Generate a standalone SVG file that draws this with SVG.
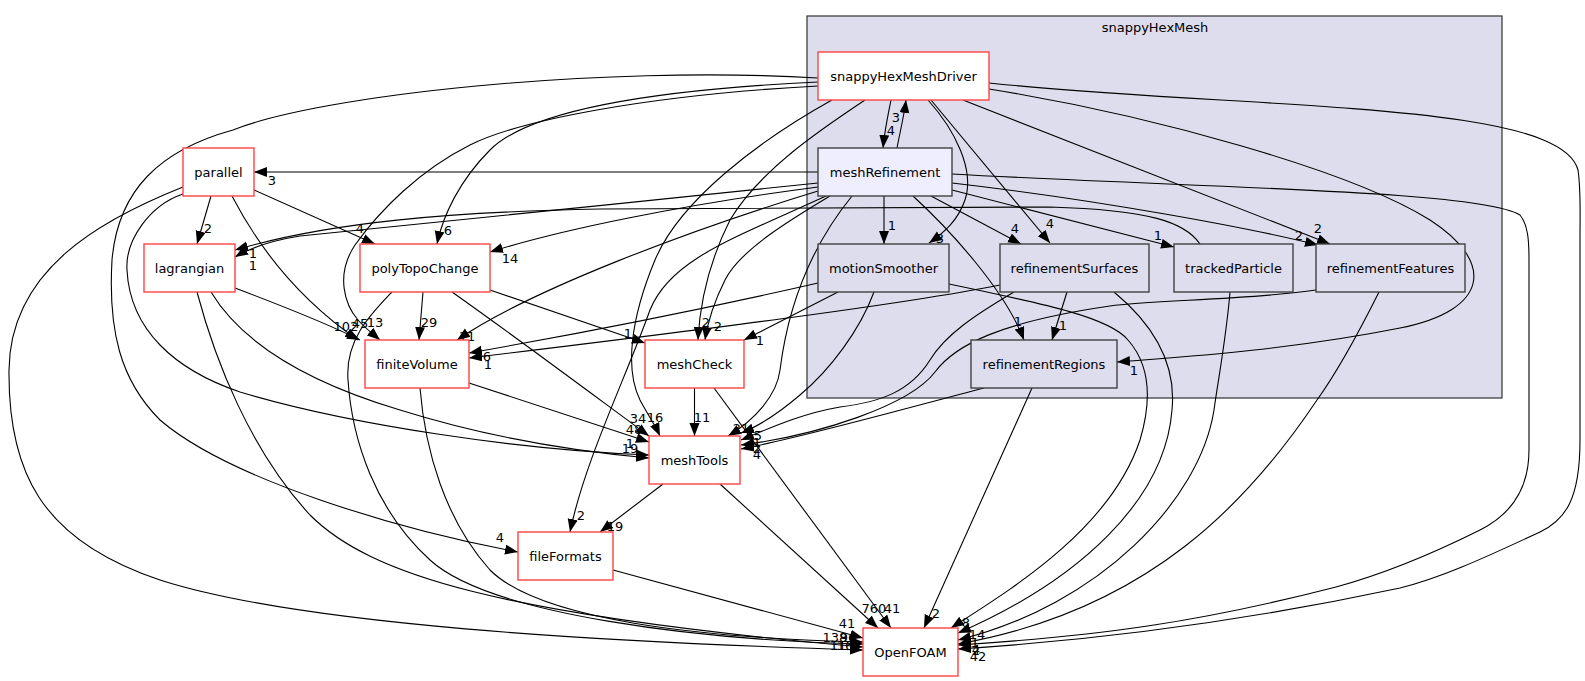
<svg xmlns="http://www.w3.org/2000/svg" width="1585" height="681" viewBox="0 0 1585 681">
<style>
.bg{fill:#ffffff}
.cl{fill:#ddddee;stroke:#404040;stroke-width:1.3}
.r{fill:#ffffff;stroke:#ff4444;stroke-width:1.4}
.g{fill:#ddddee;stroke:#404040;stroke-width:1.4}
.h{fill:#eeeeff;stroke:#404040;stroke-width:1.4}
text{font-family:"DejaVu Sans","Liberation Sans",sans-serif;font-size:13px;fill:#000}
.t{text-anchor:middle}
.l{text-anchor:middle;font-size:13px}
.e{fill:none;stroke:#000;stroke-width:1.1;marker-end:url(#a)}
</style>
<defs>
<marker id="a" markerUnits="userSpaceOnUse" markerWidth="14" markerHeight="11" refX="13" refY="5" orient="auto">
<path d="M0,0 L13,5 L0,10 z" fill="#000"/>
</marker>
</defs>
<rect class="bg" x="0" y="0" width="1585" height="681"/>
<g id="cluster_snappyHexMesh">
<rect class="cl" x="807" y="16" width="695" height="382"/>
<text class="t" x="1155" y="32">snappyHexMesh</text>
</g>
<g id="edges">
<path class="e" d="M891,100 C888,115 885,128 883,148"/>
<path class="e" d="M897,148 C900,132 904,116 906,100"/>
<path class="e" d="M928,100 C955,130 975,170 965,200 C958,220 945,232 929,243"/>
<path class="e" d="M931,100 L1050,243"/>
<path class="e" d="M963,100 L1330,244"/>
<path class="e" d="M989,89 C1150,115 1350,170 1430,220 C1495,262 1490,310 1400,328 C1300,348 1200,356 1117,362"/>
<path class="e" d="M989,83 C1250,110 1560,100 1578,170 C1581,190 1580,210 1580,240 L1580,440 C1580,500 1565,520 1540,532 C1480,560 1440,578 1400,588 C1250,620 1100,640 958,649"/>
<path class="e" d="M865,100 C820,130 760,170 730,220 C710,260 700,300 698,340"/>
<path class="e" d="M832,100 C760,140 680,200 655,260 C630,320 625,370 640,400 C648,415 655,425 660,436"/>
<path class="e" d="M818,78 C600,65 320,95 233,130 C160,150 118,190 112,260 C108,330 120,380 160,420 C230,480 400,530 518,552"/>
<path class="e" d="M818,82 C650,90 530,110 490,150 C460,180 443,215 437,244"/>
<path class="e" d="M818,86 C650,95 520,120 470,145 C420,170 380,210 355,245 C335,275 345,305 358,320 C365,328 373,334 380,340"/>
<path class="e" d="M818,172 L254,172"/>
<path class="e" d="M818,183 C650,200 450,222 300,236 C275,240 250,248 235,257"/>
<path class="e" d="M818,187 C680,205 560,230 490,252"/>
<path class="e" d="M818,191 C690,230 530,290 457,340"/>
<path class="e" d="M830,196 C790,220 740,250 725,280 C715,300 708,320 705,340"/>
<path class="e" d="M852,196 C800,260 785,330 780,370 C777,395 755,420 728,436"/>
<path class="e" d="M826,196 C730,240 670,260 650,310 C625,380 585,460 570,532"/>
<path class="e" d="M884,196 L884,244"/>
<path class="e" d="M931,196 L1021,244"/>
<path class="e" d="M952,190 L1174,247"/>
<path class="e" d="M952,183 C1100,200 1250,228 1318,245"/>
<path class="e" d="M913,196 C950,230 1005,290 1024,340"/>
<path class="e" d="M952,174 C1200,188 1480,190 1520,215 C1528,225 1529,240 1529,260 L1529,450 C1529,490 1510,515 1480,530 C1430,555 1380,575 1336,587 C1200,622 1100,636 958,645"/>
<path class="e" d="M211,196 L197,244"/>
<path class="e" d="M254,190 L375,244"/>
<path class="e" d="M232,196 C260,250 300,300 358,340"/>
<path class="e" d="M183,194 C150,205 125,240 127,270 C130,330 175,370 240,392 C350,425 520,450 649,455"/>
<path class="e" d="M183,187 C100,220 10,270 9,370 C8,470 40,540 160,580 C300,625 600,642 863,650"/>
<path class="e" d="M235,288 C280,305 330,325 360,340"/>
<path class="e" d="M211,292 C240,340 300,380 400,410 C480,435 560,450 649,458"/>
<path class="e" d="M197,292 C215,360 250,450 310,515 C370,575 500,615 863,647"/>
<path class="e" d="M423,292 L419,340"/>
<path class="e" d="M490,290 L645,343"/>
<path class="e" d="M452,292 C520,340 600,400 649,436"/>
<path class="e" d="M392,292 C370,315 345,340 348,380 C352,440 375,510 430,560 C490,615 700,640 863,644"/>
<path class="e" d="M469,383 L649,442"/>
<path class="e" d="M420,388 C425,450 445,520 490,570 C540,620 700,638 863,642"/>
<path class="e" d="M694.5,388 L694.5,436"/>
<path class="e" d="M714,388 L891,628"/>
<path class="e" d="M663,484 L600,532"/>
<path class="e" d="M720,484 L878,628"/>
<path class="e" d="M613,570 L863,638"/>
<path class="e" d="M818,283 C700,310 560,337 469,353"/>
<path class="e" d="M838,292 L744,340"/>
<path class="e" d="M874,292 C860,330 830,370 800,395 C780,412 762,425 741,433"/>
<path class="e" d="M949,284 C1050,305 1110,318 1128,340 C1150,365 1152,400 1140,440 C1110,530 1010,590 951,628"/>
<path class="e" d="M1000,285 C900,305 700,330 469,358"/>
<path class="e" d="M1067,292 L1052,340"/>
<path class="e" d="M1014,292 C975,315 945,335 930,360 C910,392 880,402 840,407 C800,414 770,428 741,440"/>
<path class="e" d="M1114,292 C1160,330 1176,370 1172,410 C1165,500 1080,580 958,633"/>
<path class="e" d="M1200,244 C1185,222 1150,210 1050,207 L600,209 C450,212 330,222 235,250"/>
<path class="e" d="M1230,292 C1226,340 1218,380 1214,410 C1200,500 1100,605 958,640"/>
<path class="e" d="M1316,290 C1250,300 1150,300 1110,306 C1000,322 955,345 935,372 C910,405 820,435 741,445"/>
<path class="e" d="M1379,292 C1360,330 1335,375 1317,400 C1250,500 1150,610 958,644"/>
<path class="e" d="M984,388 C900,410 800,438 741,449"/>
<path class="e" d="M1032,388 L924,628"/>
<text class="l" x="891" y="135">4</text>
<text class="l" x="896" y="122">3</text>
<text class="l" x="940" y="243">3</text>
<text class="l" x="1050" y="228">4</text>
<text class="l" x="1318" y="233">2</text>
<text class="l" x="1134" y="375">1</text>
<text class="l" x="978" y="661">42</text>
<text class="l" x="706" y="327">2</text>
<text class="l" x="655" y="422">16</text>
<text class="l" x="500" y="542">4</text>
<text class="l" x="448" y="235">6</text>
<text class="l" x="375" y="327">13</text>
<text class="l" x="272" y="185">3</text>
<text class="l" x="253" y="270">1</text>
<text class="l" x="510" y="263">14</text>
<text class="l" x="467" y="341">11</text>
<text class="l" x="718" y="331">2</text>
<text class="l" x="741" y="433">21</text>
<text class="l" x="581" y="520">2</text>
<text class="l" x="892" y="230">1</text>
<text class="l" x="1015" y="233">4</text>
<text class="l" x="1158" y="240">1</text>
<text class="l" x="1299" y="240">2</text>
<text class="l" x="1018" y="326">1</text>
<text class="l" x="976" y="655">2</text>
<text class="l" x="208" y="233">2</text>
<text class="l" x="360" y="233">4</text>
<text class="l" x="360" y="328">45</text>
<text class="l" x="630" y="448">1</text>
<text class="l" x="838" y="650">11</text>
<text class="l" x="346" y="331">102</text>
<text class="l" x="630" y="453">19</text>
<text class="l" x="835" y="642">138</text>
<text class="l" x="429" y="327">29</text>
<text class="l" x="628" y="338">1</text>
<text class="l" x="638" y="423">34</text>
<text class="l" x="848" y="642">96</text>
<text class="l" x="634" y="434">48</text>
<text class="l" x="845" y="650">16</text>
<text class="l" x="702" y="422">11</text>
<text class="l" x="892" y="613">41</text>
<text class="l" x="615" y="531">19</text>
<text class="l" x="874" y="613">760</text>
<text class="l" x="847" y="628">41</text>
<text class="l" x="487" y="361">6</text>
<text class="l" x="760" y="345">1</text>
<text class="l" x="758" y="440">5</text>
<text class="l" x="966" y="627">8</text>
<text class="l" x="488" y="369">1</text>
<text class="l" x="1063" y="330">1</text>
<text class="l" x="757" y="447">1</text>
<text class="l" x="977" y="639">14</text>
<text class="l" x="253" y="258">1</text>
<text class="l" x="975" y="647">1</text>
<text class="l" x="757" y="453">2</text>
<text class="l" x="976" y="654">4</text>
<text class="l" x="757" y="459">4</text>
<text class="l" x="936" y="618">2</text>
</g>
<g id="node_snappyHexMeshDriver"><rect class="r" x="818" y="52" width="171" height="48"/><text class="t" x="903.5" y="80.5">snappyHexMeshDriver</text></g>
<g id="node_meshRefinement"><rect class="h" x="818" y="148" width="134" height="48"/><text class="t" x="885" y="176.5">meshRefinement</text></g>
<g id="node_parallel"><rect class="r" x="183" y="148" width="71" height="48"/><text class="t" x="218.5" y="176.5">parallel</text></g>
<g id="node_lagrangian"><rect class="r" x="144" y="244" width="91" height="48"/><text class="t" x="189.5" y="272.5">lagrangian</text></g>
<g id="node_polyTopoChange"><rect class="r" x="360" y="244" width="130" height="48"/><text class="t" x="425" y="272.5">polyTopoChange</text></g>
<g id="node_motionSmoother"><rect class="g" x="818" y="244" width="131" height="48"/><text class="t" x="883.5" y="272.5">motionSmoother</text></g>
<g id="node_refinementSurfaces"><rect class="g" x="1000" y="244" width="149" height="48"/><text class="t" x="1074.5" y="272.5">refinementSurfaces</text></g>
<g id="node_trackedParticle"><rect class="g" x="1174" y="244" width="119" height="48"/><text class="t" x="1233.5" y="272.5">trackedParticle</text></g>
<g id="node_refinementFeatures"><rect class="g" x="1316" y="244" width="149" height="48"/><text class="t" x="1390.5" y="272.5">refinementFeatures</text></g>
<g id="node_finiteVolume"><rect class="r" x="365" y="340" width="104" height="48"/><text class="t" x="417" y="368.5">finiteVolume</text></g>
<g id="node_meshCheck"><rect class="r" x="645" y="340" width="99" height="48"/><text class="t" x="694.5" y="368.5">meshCheck</text></g>
<g id="node_refinementRegions"><rect class="g" x="971" y="340" width="146" height="48"/><text class="t" x="1044" y="368.5">refinementRegions</text></g>
<g id="node_meshTools"><rect class="r" x="649" y="436" width="91" height="48"/><text class="t" x="694.5" y="464.5">meshTools</text></g>
<g id="node_fileFormats"><rect class="r" x="518" y="532" width="95" height="48"/><text class="t" x="565.5" y="560.5">fileFormats</text></g>
<g id="node_OpenFOAM"><rect class="r" x="863" y="628" width="95" height="48"/><text class="t" x="910.5" y="656.5">OpenFOAM</text></g>
</svg>
